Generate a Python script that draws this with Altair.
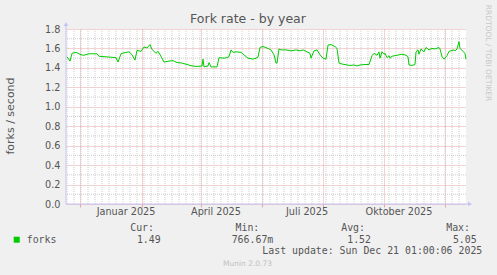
import altair as alt
import pandas as pd

# ---- data -------------------------------------------------------------
dates = ["2024-11-18","2024-11-21","2024-11-23","2024-11-27","2024-12-02","2024-12-05","2024-12-10","2024-12-15",
         "2024-12-18","2024-12-20","2024-12-25","2025-01-01","2025-01-06","2025-01-08","2025-01-11","2025-01-14",
         "2025-01-19","2025-01-22","2025-01-25","2025-01-27","2025-01-31","2025-02-03","2025-02-06","2025-02-09",
         "2025-02-11","2025-02-15","2025-02-17","2025-02-20","2025-02-23","2025-02-28","2025-03-04","2025-03-08",
         "2025-03-13","2025-03-18","2025-03-23","2025-03-28","2025-04-02","2025-04-03","2025-04-04","2025-04-08",
         "2025-04-09","2025-04-11","2025-04-17","2025-04-19","2025-04-25","2025-04-29","2025-05-01","2025-05-03",
         "2025-05-06","2025-05-11","2025-05-15","2025-05-18","2025-05-23","2025-05-26","2025-05-28","2025-05-30",
         "2025-06-02","2025-06-07","2025-06-10","2025-06-13","2025-06-15","2025-06-16","2025-06-18","2025-06-20",
         "2025-06-25","2025-06-30","2025-07-05","2025-07-09","2025-07-12","2025-07-15","2025-07-19","2025-07-20",
         "2025-07-23","2025-07-26","2025-07-29","2025-08-01","2025-08-04","2025-08-06","2025-08-09","2025-08-13",
         "2025-08-15","2025-08-17","2025-08-20","2025-08-25","2025-08-28","2025-09-01","2025-09-04","2025-09-07",
         "2025-09-12","2025-09-16","2025-09-19","2025-09-21","2025-09-24","2025-09-26","2025-09-27","2025-09-29",
         "2025-10-01","2025-10-02","2025-10-04","2025-10-06","2025-10-07","2025-10-09","2025-10-14","2025-10-19",
         "2025-10-23","2025-10-25","2025-10-26","2025-10-29","2025-11-01","2025-11-02","2025-11-04","2025-11-05",
         "2025-11-07","2025-11-10","2025-11-12","2025-11-15","2025-11-18","2025-11-21","2025-11-25","2025-11-26",
         "2025-11-28","2025-11-30","2025-12-03","2025-12-05","2025-12-10","2025-12-11","2025-12-13","2025-12-15",
         "2025-12-16","2025-12-19","2025-12-21","2025-12-22"]
forks = [1.515,1.47,1.55,1.56,1.535,1.53,1.545,1.545,1.545,1.52,1.515,1.51,1.505,1.46,1.545,1.555,
         1.565,1.535,1.48,1.58,1.57,1.615,1.605,1.64,1.59,1.55,1.57,1.52,1.46,1.47,1.475,1.455,
         1.45,1.435,1.42,1.415,1.42,1.49,1.41,1.42,1.455,1.41,1.41,1.505,1.5,1.515,1.585,1.56,
         1.565,1.56,1.525,1.5,1.49,1.5,1.51,1.61,1.62,1.6,1.585,1.535,1.45,1.45,1.595,1.585,
         1.585,1.575,1.585,1.575,1.585,1.57,1.55,1.5,1.575,1.585,1.535,1.5,1.49,1.635,1.64,1.62,
         1.6,1.45,1.44,1.43,1.425,1.43,1.42,1.43,1.435,1.435,1.525,1.55,1.53,1.565,1.5,1.565,
         1.54,1.55,1.505,1.525,1.5,1.52,1.53,1.54,1.53,1.515,1.43,1.425,1.435,1.565,1.585,1.54,
         1.595,1.565,1.61,1.585,1.6,1.595,1.61,1.595,1.515,1.49,1.525,1.57,1.585,1.575,1.595,1.67,
         1.6,1.57,1.55,1.49]

month_ticks = [(2024, 12), (2025, 1), (2025, 2), (2025, 3), (2025, 4), (2025, 5), (2025, 6),
               (2025, 7), (2025, 8), (2025, 9), (2025, 10), (2025, 11), (2025, 12)]
label_dates = ["2025-01-16", "2025-04-16", "2025-07-16", "2025-10-16"]
label_texts = ["Januar 2025", "April 2025", "Juli 2025", "Oktober 2025"]
y_major = [0.0, 0.2, 0.4, 0.6, 0.8, 1.0, 1.2, 1.4, 1.6, 1.8]
y_minor = [0.1, 0.3, 0.5, 0.7, 0.9, 1.1, 1.3, 1.5, 1.7]

legend_name = "forks"
stat_heads = ["Cur:", "Min:", "Avg:", "Max:"]
stat_values = ["1.49", "766.67m", "1.52", "5.05"]
last_update = "Last update: Sun Dec 21 01:00:06 2025"

# ---- styling ----------------------------------------------------------
W, H = 400, 175
GREEN = "#00cc00"
MGRID = "#e8a4a4"
GRID = "#cdcdcd"
AXIS = "#c4c4f4"
TXT = "#555555"
MONO = "DejaVu Sans Mono"
SANS = "DejaVu Sans"

df = pd.DataFrame({"date": dates, "v": forks})
weeks = pd.DataFrame({"d": pd.date_range("2024-11-18", "2025-12-21", freq="W-MON").strftime("%Y-%m-%d")})
ymin_df = pd.DataFrame({"v": y_minor})

xscale = alt.Scale(type="utc", domain=[alt.DateTime(year=2024, month=11, date=17, utc=True),
                                       alt.DateTime(year=2025, month=12, date=22, utc=True)])
yscale = alt.Scale(domain=[0, 1.8], nice=False, zero=True)

x_axis = alt.Axis(values=[alt.DateTime(year=y, month=m, date=1, utc=True) for y, m in month_ticks],
                  grid=True, gridColor=MGRID, gridDash=[1, 1], gridWidth=1,
                  ticks=True, tickColor=MGRID, tickSize=3, tickWidth=1,
                  labels=False, domain=False, title=None)
y_axis = alt.Axis(values=y_major, format=".1f", grid=True, gridColor=MGRID, gridDash=[1, 1],
                  gridWidth=1, ticks=False, domain=False, labelPadding=6, labelFont=SANS,
                  labelFontSize=9.7, labelColor=TXT, title=None)

minor_x = alt.Chart(weeks).mark_rule(color=GRID, strokeDash=[1, 1], strokeWidth=1).encode(
    x=alt.X("d:T", scale=xscale, axis=x_axis))
minor_y = alt.Chart(ymin_df).mark_rule(color=GRID, strokeDash=[1, 1], strokeWidth=1).encode(
    y=alt.Y("v:Q", scale=yscale, axis=y_axis))

line = alt.Chart(df).mark_line(color=GREEN, strokeWidth=1, interpolate="linear").encode(
    x=alt.X("date:T", scale=xscale, axis=x_axis),
    y=alt.Y("v:Q", scale=yscale, axis=y_axis))

xlabels = alt.Chart(pd.DataFrame({"d": label_dates, "t": label_texts})).mark_text(
    font=SANS, fontSize=9.7, color=TXT, baseline="middle", align="center").encode(
    x=alt.X("d:T", scale=xscale), y=alt.value(183), text="t:N")


def label(text, x, y, **kw):
    return alt.Chart(pd.DataFrame({"t": [text]})).mark_text(**kw).encode(
        text="t:N", x=alt.value(x), y=alt.value(y))


layers = [minor_x, minor_y, line, xlabels]

# axis lines and arrows
layers.append(alt.Chart(pd.DataFrame({"a": [0]})).mark_rule(color=AXIS, strokeWidth=1).encode(
    x=alt.value(0), y=alt.value(-5), y2=alt.value(H)))
layers.append(alt.Chart(pd.DataFrame({"a": [0]})).mark_rule(color=AXIS, strokeWidth=1).encode(
    x=alt.value(0), x2=alt.value(W + 3), y=alt.value(H)))
layers.append(alt.Chart(pd.DataFrame({"a": [0]})).mark_point(
    shape="triangle-up", filled=True, color=AXIS, size=22, opacity=1).encode(
    x=alt.value(0), y=alt.value(-5)))
layers.append(alt.Chart(pd.DataFrame({"a": [0]})).mark_point(
    shape="triangle-right", filled=True, color=AXIS, size=22, opacity=1).encode(
    x=alt.value(W + 4), y=alt.value(H)))

# titles
layers.append(label("Fork rate - by year", 182, -10, font=SANS, fontSize=12.5, color=TXT,
                    align="center", baseline="middle"))
layers.append(label("forks / second", -55, 87, font=SANS, fontSize=11, color=TXT,
                    align="center", baseline="middle", angle=270))
layers.append(label("RRDTOOL / TOBI OETIKER", 422, 24, font=SANS, fontSize=7.5, color="#c8c8c8",
                    align="center", baseline="middle", angle=90))

# legend
layers.append(alt.Chart(pd.DataFrame({"a": [0]})).mark_square(
    color=GREEN, size=36, opacity=1, filled=True).encode(x=alt.value(-49.3), y=alt.value(210.7)))
layers.append(label(legend_name, -39.3, 210.8, font=MONO, fontSize=9.9, color=TXT,
                    align="left", baseline="middle"))
head_x = [88, 193.3, 299, 404]
val_x = [94.7, 207.3, 305, 410.7]
for h, hx in zip(stat_heads, head_x):
    layers.append(label(h, hx, 199.3, font=MONO, fontSize=9.9, color=TXT, align="right", baseline="middle"))
for v, vx in zip(stat_values, val_x):
    layers.append(label(v, vx, 211, font=MONO, fontSize=9.9, color=TXT, align="right", baseline="middle"))
layers.append(label(last_update, 416.3, 222.2, font=MONO, fontSize=9.9, color=TXT,
                    align="right", baseline="middle"))
layers.append(label("Munin 2.0.73", 181.5, 235.3, font=SANS, fontSize=7.5, color="#c0c0c0",
                    align="center", baseline="middle"))

chart = alt.layer(*layers).properties(
    width=W, height=H,
    autosize=alt.AutoSizeParams(type="none"),
    padding={"left": 66, "top": 29, "right": 31, "bottom": 71},
    background="#f0f0f0",
).configure_view(fill="white", stroke=None)

chart.save("out.html", embed_options={"renderer": "svg", "actions": False})
